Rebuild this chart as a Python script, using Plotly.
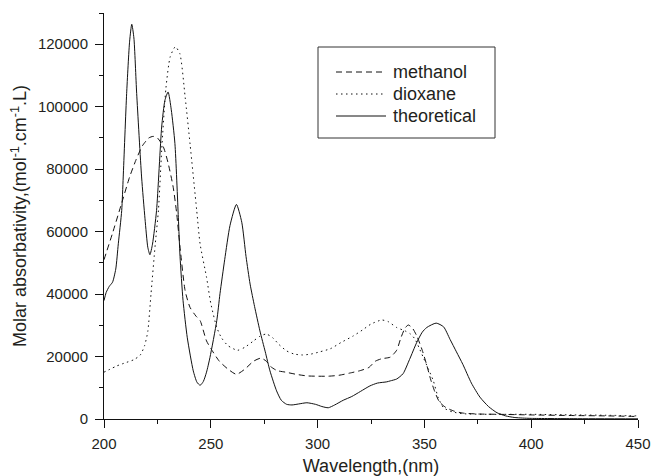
import plotly.graph_objects as go

# ---- data ----
methanol_x = [200, 204, 208, 212, 215, 218, 221, 223, 225, 227.8, 230, 232.4, 234, 235.6, 238, 240.3,
              243, 245, 248, 251, 254, 258, 262, 266, 270, 273.5, 276, 278, 281, 285, 290, 295, 300,
              305, 310, 315, 320, 324, 327, 330, 334, 337, 339, 341, 342.5, 344.5, 346.5, 349, 351,
              353, 355, 357, 360, 364, 368, 375, 385, 400, 420, 435, 450]
methanol_y = [51000, 59500, 68500, 77500, 83000, 87500, 90000, 90500, 90000, 87100, 82000, 74200, 66000,
              55000, 41000, 35700, 33000, 31500, 25000, 21500, 18500, 16000, 14300, 16000, 18500, 19500,
              18500, 16800, 15500, 15000, 14300, 13800, 13700, 13700, 14000, 14700, 15500, 16500, 18500,
              19300, 19800, 22000, 26000, 29200, 30100, 29000, 26500, 22000, 17500, 12500, 8500, 5500,
              3700, 2500, 1900, 1600, 1500, 1300, 1100, 1000, 800]

dioxane_x = [200, 203, 206, 210, 214, 217, 219, 220.5, 222, 224, 225.5, 227, 229, 231, 233.4, 235.5,
             238, 240.3, 243.4, 245, 248, 250, 252.8, 255, 258, 262.5, 266, 270, 273, 276, 279, 282,
             285.5, 289, 293, 297, 301, 306, 311, 316.7, 321, 325, 330, 333, 337, 341, 343.5, 345.6,
             347.5, 349.5, 352, 354.2, 356.5, 359, 363, 368, 380, 400, 420, 435, 450]
dioxane_y = [15000, 16000, 17000, 18000, 19000, 20500, 23500, 28000, 40000, 56000, 67000, 86000, 106000,
             116000, 119200, 117000, 103000, 88000, 66800, 56000, 45400, 37000, 29300, 26000, 23500,
             22000, 23000, 25000, 26500, 27200, 26000, 23800, 21800, 20800, 20500, 20800, 21500, 22500,
             24500, 26600, 28500, 30400, 31700, 31200, 29300, 28200, 27200, 25600, 22800, 19700, 15800,
             12200, 6800, 3600, 2300, 1700, 1500, 1500, 1300, 1200, 1000]

theoretical_x = [200, 201, 202.5, 204, 205.5, 206.7, 208.3, 209, 210.6, 212, 213, 214, 215.3, 217.6,
                 219.2, 220.5, 221.5, 222.7, 224.6, 227, 228.5, 230, 231.5, 233.2, 234.8, 235.6, 237,
                 239, 241.8, 243.5, 245, 246.5, 248, 249.6, 252.8, 254.3, 256.5, 259, 262, 264.5,
                 266.5, 268.4, 270.5, 273, 275.5, 277.7, 280.8, 283, 285.5, 288, 291, 295, 299, 302,
                 305, 308, 312, 316, 320, 324.5, 328, 332.4, 334, 337, 340, 343, 346.4, 349, 351.1,
                 355.5, 359, 362, 365, 368, 372, 376, 380, 384, 388, 392, 396, 400, 420, 450]
theoretical_y = [37900, 40500, 42500, 43800, 48000, 56100, 66800, 77500, 104200, 121000, 126400, 122000,
                 104200, 77500, 64100, 55000, 52600, 56000, 66800, 93500, 102000, 104700, 99000, 88200,
                 64600, 52000, 38000, 26000, 15400, 11800, 10800, 12000, 15000, 19700, 31500, 40100,
                 51000, 62000, 68700, 63000, 52000, 43200, 36000, 28200, 21500, 15400, 9000, 6000, 4700,
                 4500, 4800, 5200, 4700, 4000, 3600, 4500, 6000, 7200, 8800, 10600, 11500, 11900, 12200,
                 12800, 14500, 19000, 24500, 27800, 29300, 30700, 29500, 25500, 21500, 17500, 11500,
                 7000, 4000, 2000, 1000, 500, 300, 200, 100, 50]

series_names = ["methanol", "dioxane", "theoretical"]
x_ticks = [200, 250, 300, 350, 400, 450]
y_ticks = [0, 20000, 40000, 60000, 80000, 100000, 120000]

FONT = "Liberation Sans, Arial, Helvetica, sans-serif"
TXT = "#231f20"
LINE = "#111"
dashes = ["6px,4px", "1.5px,3.5px", "solid"]

# plot area in pixels (for converting legend placement to paper coordinates)
W, H = 654, 476
L, R, T, B = 104, 16, 13, 57
PW, PH = W - L - R, H - T - B


def px(xp):
    return (xp - L) / PW


def py(yp):
    return (H - B - yp) / PH


fig = go.Figure()
for name, xs, ys, d in zip(series_names, [methanol_x, dioxane_x, theoretical_x],
                           [methanol_y, dioxane_y, theoretical_y], dashes):
    fig.add_trace(go.Scatter(x=xs, y=ys, name=name, mode="lines", showlegend=False,
                             line=dict(color=LINE, width=1, dash=d, shape="spline", smoothing=0.6)))

axis_common = dict(showline=True, linecolor=LINE, linewidth=1, ticks="outside", ticklen=8,
                   tickwidth=1, tickcolor=LINE, showgrid=False, zeroline=False, mirror=False,
                   automargin=False, tickfont=dict(family=FONT, size=15, color=TXT))

fig.update_xaxes(range=[200, 450], tickvals=x_ticks, ticklabelstandoff=3,
                 minor=dict(dtick=25, tick0=200, ticks="outside", ticklen=4, tickcolor=LINE, showgrid=False),
                 title=dict(text="Wavelength,(nm)", font=dict(family=FONT, size=18, color=TXT), standoff=8),
                 **axis_common)
fig.update_yaxes(range=[0, 130000], tickvals=y_ticks, tickformat="d", ticklabelstandoff=4,
                 minor=dict(dtick=10000, tick0=0, ticks="outside", ticklen=4, tickcolor=LINE, showgrid=False),
                 title=dict(text="Molar absorbativity,(mol<sup>-1</sup>.cm<sup>-1</sup>.L)",
                            font=dict(family=FONT, size=18, color=TXT), standoff=6),
                 **axis_common)

# legend box drawn as shapes + text annotations
shapes = [dict(type="rect", xref="paper", yref="paper", x0=px(318), x1=px(495), y0=py(47), y1=py(138),
               line=dict(color="#333", width=1), fillcolor="white", layer="above")]
annotations = []
for name, d, yc in zip(series_names, dashes, [72, 94, 116]):
    shapes.append(dict(type="line", xref="paper", yref="paper", x0=px(336), x1=px(386), y0=py(yc), y1=py(yc),
                       line=dict(color=LINE, width=1, dash=d), layer="above"))
    annotations.append(dict(text=name, xref="paper", yref="paper", x=px(391), y=py(yc), xanchor="left",
                            yanchor="middle", showarrow=False, font=dict(family=FONT, size=18, color=TXT)))

fig.update_layout(
    width=W, height=H,
    margin=dict(l=L, r=R, t=T, b=B),
    paper_bgcolor="white", plot_bgcolor="white",
    showlegend=False,
    shapes=shapes, annotations=annotations,
)

fig.write_html("out.html", config={"displayModeBar": False},
               post_script="document.body.style.margin='0';document.body.style.overflow='hidden';")
